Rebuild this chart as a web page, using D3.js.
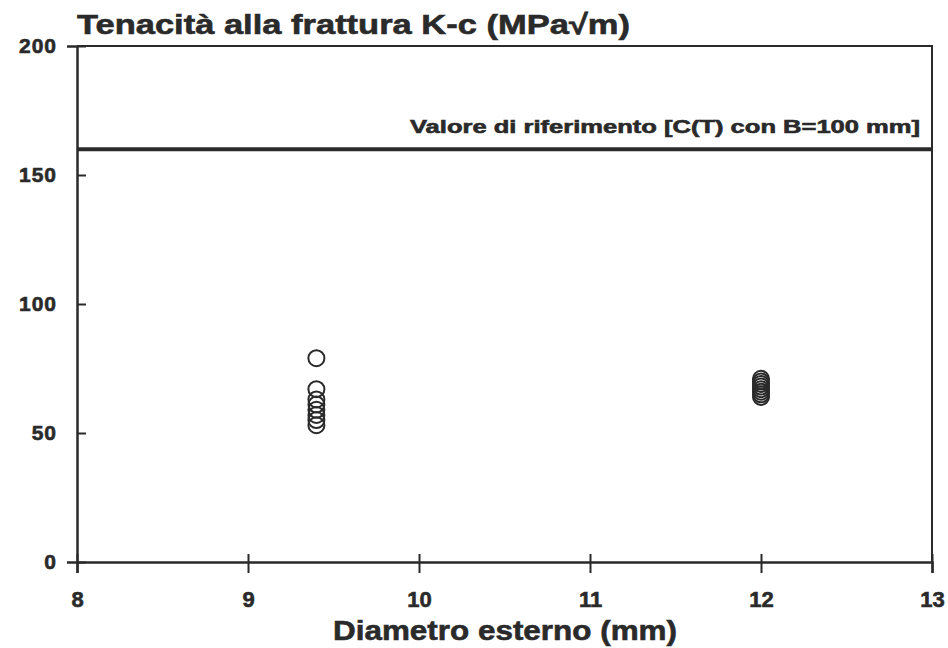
<!DOCTYPE html>
<html lang="it">
<head>
<meta charset="UTF-8">
<title>Tenacità alla frattura</title>
<style>
  body { margin: 0; background: #fff; }
  text { font-family: "Liberation Sans", Arial, sans-serif; font-weight: bold; fill: #2a2a2a; stroke: #2a2a2a; stroke-width: 0.6px; }
</style>
</head>
<body>
<div id="chart"></div>
<script src="https://cdn.jsdelivr.net/npm/d3@7"></script>
<script>
// data
var xTicks = [8, 9, 10, 11, 12, 13];
var yTicks = [0, 50, 100, 150, 200];
var diam94 = [79, 67, 63, 61, 59, 57, 55, 53];   // D = 9.4 mm
var diam12 = [71, 70, 69, 68, 67, 66, 65, 64];   // D = 12 mm
var refValue = 160;
var refLabel = "Valore di riferimento [C(T) con B=100 mm]";

var W = 948, H = 648;
var margin = {top: 46, right: 16, bottom: 86, left: 77};

var svg = d3.select("#chart").append("svg")
    .attr("width", W)
    .attr("height", H);

var x = d3.scaleLinear().domain([8, 13]).range([margin.left, W - margin.right]);
var y = d3.scaleLinear().domain([0, 200]).range([H - margin.bottom, margin.top]);

var ink = "#2a2a2a";

// frame top + right
svg.append("path")
    .attr("d", "M" + x(8) + "," + y(200) + "H" + x(13) + "V" + y(0))
    .attr("fill", "none")
    .attr("stroke", ink)
    .attr("stroke-width", 2);

// x axis
var xAxis = svg.append("g")
    .attr("transform", "translate(0," + y(0) + ")")
    .call(d3.axisBottom(x).tickValues(xTicks).tickFormat(d3.format("d")).tickSize(11).tickPadding(18));
xAxis.select(".domain").attr("stroke", ink).attr("stroke-width", 2.5);
xAxis.selectAll(".tick line").attr("y1", -8).attr("stroke", ink).attr("stroke-width", 2);
xAxis.selectAll(".tick text").style("font-size", "22px").attr("fill", ink);

// y axis
var yAxis = svg.append("g")
    .attr("transform", "translate(" + x(8) + ",0)")
    .call(d3.axisLeft(y).tickValues(yTicks).tickSize(10).tickPadding(10));
yAxis.select(".domain").attr("stroke", ink).attr("stroke-width", 2.5);
yAxis.selectAll(".tick line").attr("x2", 9).attr("stroke", ink).attr("stroke-width", 2);
yAxis.selectAll(".tick text").style("font-size", "21px").style("letter-spacing", "1px").attr("fill", ink);

// reference line
svg.append("line")
    .attr("x1", x(8)).attr("x2", x(13))
    .attr("y1", y(refValue)).attr("y2", y(refValue))
    .attr("stroke", ink)
    .attr("stroke-width", 4);

svg.append("text")
    .attr("x", x(13) - 12)
    .attr("y", y(refValue) - 16)
    .attr("text-anchor", "end")
    .attr("textLength", 510)
    .attr("lengthAdjust", "spacingAndGlyphs")
    .style("font-size", "18px")
    .text(refLabel);

// points
var pts = diam94.map(function(v) { return {d: 9.4, v: v}; })
    .concat(diam12.map(function(v) { return {d: 12, v: v}; }));

svg.append("g").selectAll("circle")
    .data(pts)
    .enter()
    .append("circle")
    .attr("cx", function(p) { return x(p.d); })
    .attr("cy", function(p) { return y(p.v); })
    .attr("r", 8)
    .attr("fill", "none")
    .attr("stroke", ink)
    .attr("stroke-width", 2);

// titles
svg.append("text")
    .attr("x", x(8))
    .attr("y", 34)
    .attr("textLength", 553)
    .attr("lengthAdjust", "spacingAndGlyphs")
    .style("font-size", "28px")
    .text("Tenacità alla frattura K-c (MPa\u221Am)");

svg.append("text")
    .attr("x", 505)
    .attr("y", 640)
    .attr("text-anchor", "middle")
    .attr("textLength", 344)
    .attr("lengthAdjust", "spacingAndGlyphs")
    .style("font-size", "28px")
    .text("Diametro esterno (mm)");
</script>
</body>
</html>
